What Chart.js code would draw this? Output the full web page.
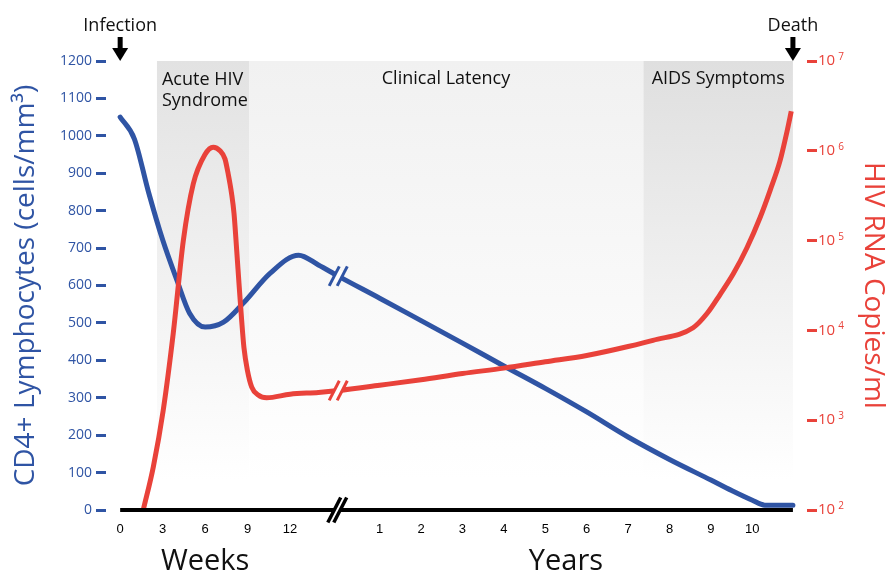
<!DOCTYPE html>
<html><head><meta charset="utf-8">
<script src="https://cdn.jsdelivr.net/npm/chart.js@4/dist/chart.umd.min.js"></script>
<style>html,body{margin:0;padding:0;background:#fff}</style>
</head><body>
<canvas id="c" width="887" height="572"></canvas>
<script>
// ---- data ----
const weekTicks = [0, 3, 6, 9, 12];
const yearTicks = [1, 2, 3, 4, 5, 6, 7, 8, 9, 10];
const cd4Ticks = [0, 100, 200, 300, 400, 500, 600, 700, 800, 900, 1000, 1100, 1200];
const rnaTicks = [1e2, 1e3, 1e4, 1e5, 1e6, 1e7];

const cd4Weeks = [0, 1, 2, 3, 4, 4.9, 6, 7.3, 8.7, 10.6, 12.6, 14];
const cd4WeekValues = [1050, 992, 850, 722, 615, 526, 489, 502, 553, 633, 681, 655];
const cd4Years = [0, 1, 2, 3, 4, 5, 6, 7, 8, 9, 9.5, 10, 10.3, 10.98];
const cd4YearValues = [625, 566, 506, 446, 385, 325, 262, 195, 135, 80, 52, 26, 13, 13];

const rnaWeeks = [1.63, 2.34, 3.04, 3.75, 4.46, 5.16, 5.99, 6.57, 7.05, 7.4, 7.63, 7.87, 8.04, 8.23, 8.41, 8.58, 8.74, 8.98, 9.29, 9.75, 10.35, 12, 14];
const rnaWeekValues = [100, 302, 1290, 9330, 100000, 427000, 910000, 1096000, 1000000, 813000, 550000, 331000, 200000, 77600, 30200, 12900, 6460, 3630, 2340, 1905, 1778, 1950, 2040];
const rnaYears = [0, 1, 2, 3, 4, 5, 6, 7, 7.6, 8.57, 8.91, 9.22, 9.54, 9.87, 10.19, 10.43, 10.67, 10.84, 10.94];
const rnaYearValues = [2140, 2450, 2820, 3310, 3800, 4470, 5250, 6610, 7760, 10700, 15500, 25100, 42700, 83200, 182000, 363000, 776000, 1660000, 2750000];

const phaseNames = [['Acute HIV', 'Syndrome'], ['Clinical Latency'], ['AIDS Symptoms']];
const phaseFromUnit = ['week', 'week', 'year'];
const phaseFrom = [2.6, 9.1, 7.37];
const phaseToUnit = ['week', 'year', 'year'];
const phaseTo = [9.1, 7.37, 10.98];
const phaseTopColor = ['#e2e2e2', '#f1f1f1', '#dfdfdf'];

const eventNames = ['Infection', 'Death'];
const eventUnit = ['week', 'year'];
const eventAt = [0, 10.98];

// ---- axis mapping (weeks, then a break, then years) ----
const BREAK_U = 15.4;
const YEAR_U = 2.924;
function pos(unit, v) { return unit === 'week' ? v : BREAK_U + YEAR_U * v; }

const BLUE = '#2f54a4';
const RED = '#e9423a';
const FONT = "'Open Sans', 'Noto Sans', sans-serif";

const cd4Data = cd4Weeks.map((w, i) => ({ x: pos('week', w), y: cd4WeekValues[i] }))
  .concat(cd4Years.map((y, i) => ({ x: pos('year', y), y: cd4YearValues[i] })));
const rnaData = rnaWeeks.map((w, i) => ({ x: pos('week', w), y: rnaWeekValues[i] }))
  .concat(rnaYears.map((y, i) => ({ x: pos('year', y), y: rnaYearValues[i] })));

const xTickVals = weekTicks.map(w => pos('week', w)).concat(yearTicks.map(y => pos('year', y)));
const xTickLabels = weekTicks.map(String).concat(yearTicks.map(String));

function drawBreak(ctx, cx, cy, color, len, gap, lw, whiteLen) {
  const dx = 0.46, dy = -0.89;
  ctx.save();
  ctx.lineCap = 'butt';
  ctx.strokeStyle = '#ffffff';
  ctx.lineWidth = gap * 2;
  ctx.beginPath();
  ctx.moveTo(cx - dx * whiteLen / 2, cy - dy * whiteLen / 2);
  ctx.lineTo(cx + dx * whiteLen / 2, cy + dy * whiteLen / 2);
  ctx.stroke();
  ctx.strokeStyle = color;
  ctx.lineWidth = lw;
  [-gap, gap].forEach(o => {
    ctx.beginPath();
    ctx.moveTo(cx + o - dx * len / 2, cy - dy * len / 2);
    ctx.lineTo(cx + o + dx * len / 2, cy + dy * len / 2);
    ctx.stroke();
  });
  ctx.restore();
}

function arrow(ctx, x, yTop, yTip) {
  ctx.save();
  ctx.fillStyle = '#000';
  ctx.fillRect(x - 2.5, yTop, 5, (yTip - yTop) - 12);
  ctx.beginPath();
  ctx.moveTo(x - 8, yTip - 13);
  ctx.lineTo(x + 8, yTip - 13);
  ctx.lineTo(x, yTip);
  ctx.closePath();
  ctx.fill();
  ctx.restore();
}

const decor = {
  id: 'decor',
  beforeDatasetsDraw(chart) {
    const { ctx, chartArea, scales } = chart;
    const xs = scales.x;
    ctx.save();
    for (let i = 0; i < phaseFrom.length; i++) {
      const x0 = xs.getPixelForValue(pos(phaseFromUnit[i], phaseFrom[i]));
      const x1 = xs.getPixelForValue(pos(phaseToUnit[i], phaseTo[i]));
      const g = ctx.createLinearGradient(0, chartArea.top, 0, chartArea.bottom - 30);
      g.addColorStop(0, phaseTopColor[i]);
      g.addColorStop(1, '#ffffff');
      ctx.fillStyle = g;
      ctx.fillRect(x0, chartArea.top, x1 - x0, chartArea.bottom - chartArea.top);
    }
    ctx.restore();
  },
  afterDatasetsDraw(chart) {
    const { ctx, scales } = chart;
    const xs = scales.x, yl = scales.y, yr = scales.y1;
    const x0 = xs.getPixelForValue(pos('week', 0));
    const x1 = xs.getPixelForValue(pos('year', 10.98));
    const yb = yl.getPixelForValue(0);
    ctx.save();
    ctx.fillStyle = '#000';
    ctx.fillRect(x0, yb - 2, x1 - x0, 4);
    ctx.restore();
    const bx = xs.getPixelForValue(BREAK_U);
    drawBreak(ctx, bx, yl.getPixelForValue(cd4YearValues[0]), BLUE, 22, 4, 3, 12);
    drawBreak(ctx, bx, yr.getPixelForValue(rnaYearValues[0]), RED, 22, 4, 3, 12);
    drawBreak(ctx, bx - 1, yb, '#000', 28, 3, 3.5, 18);
  },
  afterDraw(chart) {
    const { ctx, chartArea, scales } = chart;
    const xs = scales.x, yr = scales.y1;
    ctx.save();
    ctx.fillStyle = '#111';
    ctx.textBaseline = 'alphabetic';
    ctx.font = '18px ' + FONT;
    for (let i = 0; i < eventNames.length; i++) {
      const x = xs.getPixelForValue(pos(eventUnit[i], eventAt[i]));
      ctx.textAlign = 'center';
      ctx.fillText(eventNames[i], x, 31);
      arrow(ctx, x, 37, chartArea.top);
    }
    const p0 = xs.getPixelForValue(pos(phaseFromUnit[0], phaseFrom[0]));
    ctx.textAlign = 'left';
    ctx.fillText(phaseNames[0][0], p0 + 5, 85);
    ctx.fillText(phaseNames[0][1], p0 + 5, 106);
    ctx.textAlign = 'center';
    ctx.fillText(phaseNames[1][0], 446, 84);
    const p2a = xs.getPixelForValue(pos(phaseFromUnit[2], phaseFrom[2]));
    const p2b = xs.getPixelForValue(pos(phaseToUnit[2], phaseTo[2]));
    ctx.fillText(phaseNames[2][0], (p2a + p2b) / 2, 84);
    ctx.font = '29px ' + FONT;
    ctx.fillText('Weeks', xs.getPixelForValue(pos('week', 6)), 570);
    ctx.fillText('Years', xs.getPixelForValue(pos('year', 5.5)), 570);
    ctx.font = '15px ' + FONT;
    const w10 = ctx.measureText('10').width;
    ctx.font = '10px ' + FONT;
    ctx.fillStyle = RED;
    ctx.textAlign = 'left';
    rnaTicks.forEach(v => {
      const y = yr.getPixelForValue(v);
      ctx.fillText(String(Math.round(Math.log10(v))), yr.left + 11 + w10 + 3, y - 1);
    });
    ctx.restore();
  }
};

new Chart(document.getElementById('c'), {
  type: 'line',
  data: {
    datasets: [
      { label: 'HIV RNA', data: rnaData, yAxisID: 'y1', borderColor: RED, borderWidth: 5,
        pointRadius: 0, cubicInterpolationMode: 'monotone', fill: false },
      { label: 'CD4', data: cd4Data, yAxisID: 'y', borderColor: BLUE, borderWidth: 5,
        pointRadius: 0, cubicInterpolationMode: 'monotone', fill: false, borderCapStyle: 'round' }
    ]
  },
  options: {
    responsive: false,
    animation: false,
    layout: { padding: { top: 61, left: 0, right: 0, bottom: 0 } },
    plugins: { legend: { display: false }, tooltip: { enabled: false } },
    scales: {
      x: {
        type: 'linear', min: -1, max: 48.5,
        grid: { display: false, drawTicks: false },
        border: { display: false },
        afterBuildTicks: s => { s.ticks = xTickVals.map(v => ({ value: v })); },
        ticks: {
          padding: 12, color: '#000', maxRotation: 0, autoSkip: false,
          font: { family: "'Liberation Sans', Arial, sans-serif", size: 13 },
          callback: (v, i) => xTickLabels[i]
        },
        afterFit: s => { s.height = 62; }
      },
      y: {
        position: 'left', min: 0, max: 1200,
        afterBuildTicks: s => { s.ticks = cd4Ticks.map(v => ({ value: v })); },
        grid: { drawOnChartArea: false, drawTicks: true, tickLength: 10, tickWidth: 3, tickColor: BLUE },
        border: { display: false },
        ticks: { color: BLUE, padding: 4, font: { family: FONT, size: 14 }, callback: v => String(v) },
        title: { display: true, text: 'CD4+ Lymphocytes (cells/mm³)', color: BLUE,
          font: { family: FONT, size: 28, lineHeight: 1 }, padding: { top: 12, bottom: 0 } },
        afterFit: s => { s.width = 106; }
      },
      y1: {
        type: 'logarithmic', position: 'right', min: 1e2, max: 1e7,
        afterBuildTicks: s => { s.ticks = rnaTicks.map(v => ({ value: v })); },
        grid: { drawOnChartArea: false, drawTicks: true, tickLength: 10, tickWidth: 3, tickColor: RED },
        border: { display: false },
        ticks: { color: RED, padding: 1, font: { family: FONT, size: 15 }, callback: () => '10' },
        title: { display: true, text: 'HIV RNA Copies/ml', color: RED,
          font: { family: FONT, size: 28, lineHeight: 1 }, padding: { top: 0, bottom: 0 } },
        afterFit: s => { s.width = 80; }
      }
    }
  },
  plugins: [decor]
});
</script>
</body></html>
